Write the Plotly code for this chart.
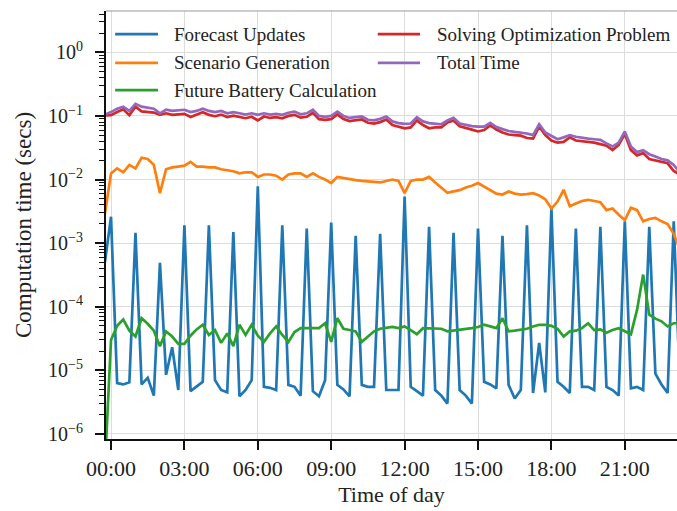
import plotly.graph_objects as go

# Sample times in minutes after midnight (15-minute resolution)
minutes = list(range(-15, 1395 + 1, 15))

forecast_updates = [
    5e-4,
    2.6e-3, 6.3e-6, 6.0e-6, 6.5e-6,    # 00
    1.45e-3, 6.0e-6, 7.6e-6, 4.0e-6,   # 01
    4.9e-4, 8.5e-6, 2.3e-5, 4.9e-6,    # 02
    1.9e-3, 4.7e-6, 5.5e-6, 6.6e-6,    # 03
    1.9e-3, 7.0e-6, 4.9e-6, 4.5e-6,    # 04
    1.5e-3, 3.9e-6, 4.9e-6, 7.0e-6,    # 05
    7.8e-3, 5.5e-6, 5.3e-6, 4.9e-6,    # 06
    1.9e-3, 5.9e-6, 5.5e-6, 4.0e-6,    # 07
    1.7e-3, 4.7e-6, 3.9e-6, 7.0e-6,    # 08
    2.1e-3, 5.9e-6, 5.0e-6, 3.9e-6,    # 09
    1.3e-3, 5.9e-6, 5.5e-6, 5.5e-6,    # 10
    1.4e-3, 4.9e-6, 4.9e-6, 4.9e-6,    # 11
    5.4e-3, 5.5e-6, 4.7e-6, 4.0e-6,    # 12
    1.8e-3, 4.9e-6, 4.0e-6, 3.0e-6,    # 13
    1.45e-3, 4.9e-6, 4.0e-6, 3.0e-6,   # 14
    1.7e-3, 6.6e-6, 6.0e-6, 5.2e-6,    # 15
    1.3e-3, 5.9e-6, 3.6e-6, 4.9e-6,    # 16
    1.9e-3, 4.4e-6, 2.7e-5, 4.5e-6,    # 17
    3.5e-3, 6.6e-6, 5.5e-6, 4.4e-6,    # 18
    1.7e-3, 5.5e-6, 5.5e-6, 4.9e-6,    # 19
    1.8e-3, 5.5e-6, 4.9e-6, 4.0e-6,    # 20
    2.2e-3, 5.2e-6, 5.5e-6, 4.9e-6,    # 21
    1.8e-3, 8.9e-6, 6.0e-6, 4.4e-6,    # 22
    2.2e-3, 6.0e-6,                    # 23
]

scenario_generation = [
    2.9e-3,
    1.25e-2, 1.5e-2, 1.3e-2, 1.7e-2,
    1.5e-2, 2.2e-2, 2.1e-2, 1.7e-2,
    6.1e-3, 1.45e-2, 1.55e-2, 1.6e-2,
    1.65e-2, 1.9e-2, 1.6e-2, 1.6e-2,
    1.55e-2, 1.55e-2, 1.45e-2, 1.4e-2,
    1.35e-2, 1.25e-2, 1.3e-2, 1.3e-2,
    1.1e-2, 1.2e-2, 1.2e-2, 1.15e-2,
    1.0e-2, 1.2e-2, 1.25e-2, 1.25e-2,
    1.1e-2, 1.25e-2, 1.1e-2, 1.0e-2,
    8.8e-3, 1.1e-2, 1.05e-2, 1.0e-2,
    9.8e-3, 9.5e-3, 9.3e-3, 9.0e-3,
    9.0e-3, 9.5e-3, 1.0e-2, 9.5e-3,
    6.1e-3, 9.5e-3, 1.0e-2, 1.0e-2,
    1.1e-2, 9.0e-3, 7.5e-3, 6.2e-3,
    6.5e-3, 6.8e-3, 7.5e-3, 8.0e-3,
    8.8e-3, 7.8e-3, 6.9e-3, 6.0e-3,
    5.8e-3, 6.5e-3, 6.0e-3, 5.8e-3,
    5.9e-3, 6.1e-3, 5.6e-3, 4.9e-3,
    3.5e-3, 4.5e-3, 6.9e-3, 3.8e-3,
    4.2e-3, 4.6e-3, 4.8e-3, 4.6e-3,
    4.4e-3, 3.3e-3, 3.5e-3, 2.8e-3,
    2.3e-3, 3.6e-3, 3.3e-3, 2.2e-3,
    2.4e-3, 2.5e-3, 2.2e-3, 2.0e-3,
    1.4e-3, 8.0e-4,
]

future_battery = [
    3e-7,
    3.0e-5, 5.0e-5, 6.3e-5, 4.2e-5,
    3.4e-5, 6.6e-5, 5.4e-5, 4.2e-5,
    2.4e-5, 4.1e-5, 3.4e-5, 2.6e-5,
    2.6e-5, 3.5e-5, 4.4e-5, 5.2e-5,
    3.6e-5, 4.3e-5, 2.7e-5, 3.8e-5,
    2.4e-5, 5.2e-5, 3.6e-5, 5.2e-5,
    3.5e-5, 2.8e-5, 3.8e-5, 4.9e-5,
    3.6e-5, 2.8e-5, 4.0e-5, 4.6e-5,
    4.6e-5, 4.6e-5, 4.6e-5, 5.5e-5,
    2.8e-5, 6.6e-5, 4.5e-5, 4.3e-5,
    4.1e-5, 2.8e-5, 3.4e-5, 4.1e-5,
    4.5e-5, 4.6e-5, 4.8e-5, 4.6e-5,
    4.9e-5, 4.3e-5, 3.7e-5, 4.6e-5,
    4.6e-5, 4.6e-5, 4.5e-5, 4.1e-5,
    4.2e-5, 4.3e-5, 4.4e-5, 4.6e-5,
    4.8e-5, 5.2e-5, 4.9e-5, 4.6e-5,
    6.6e-5, 4.1e-5, 4.2e-5, 4.3e-5,
    4.5e-5, 4.9e-5, 5.2e-5, 5.2e-5,
    5.0e-5, 4.5e-5, 3.4e-5, 4.1e-5,
    4.2e-5, 4.6e-5, 5.5e-5, 4.3e-5,
    4.4e-5, 3.9e-5, 4.3e-5, 4.6e-5,
    4.1e-5, 3.7e-5, 8.9e-5, 3.2e-4,
    7.5e-5, 6.5e-5, 5.9e-5, 4.9e-5,
    5.5e-5, 5.5e-5,
]

solving_optimization = [
    0.102,
    0.103, 0.115, 0.127, 0.103,
    0.140, 0.118, 0.114, 0.113,
    0.104, 0.110, 0.104, 0.106,
    0.108, 0.096, 0.104, 0.114,
    0.104, 0.099, 0.105, 0.096,
    0.101, 0.097, 0.092, 0.097,
    0.085, 0.098, 0.093, 0.096,
    0.092, 0.100, 0.104, 0.094,
    0.097, 0.112, 0.089, 0.087,
    0.089, 0.106, 0.089, 0.083,
    0.085, 0.088, 0.078, 0.076,
    0.080, 0.088, 0.072, 0.067,
    0.064, 0.066, 0.085, 0.072,
    0.064, 0.066, 0.066, 0.079,
    0.085, 0.069, 0.064, 0.061,
    0.057, 0.060, 0.071, 0.061,
    0.055, 0.051, 0.050, 0.049,
    0.045, 0.044, 0.068, 0.050,
    0.041, 0.038, 0.039, 0.046,
    0.041, 0.040, 0.039, 0.038,
    0.036, 0.034, 0.029, 0.035,
    0.052, 0.029, 0.024, 0.026,
    0.021, 0.020, 0.019, 0.018,
    0.0136, 0.012,
]

total_time = [
    0.105,
    0.115, 0.130, 0.140, 0.120,
    0.155, 0.140, 0.135, 0.130,
    0.110, 0.125, 0.120, 0.122,
    0.125, 0.115, 0.120, 0.130,
    0.120, 0.115, 0.120, 0.110,
    0.115, 0.110, 0.105, 0.110,
    0.104, 0.110, 0.105, 0.108,
    0.104, 0.112, 0.117, 0.106,
    0.110, 0.125, 0.100, 0.097,
    0.100, 0.117, 0.100, 0.093,
    0.096, 0.098, 0.087, 0.085,
    0.090, 0.098, 0.082, 0.077,
    0.075, 0.076, 0.095, 0.082,
    0.077, 0.075, 0.074, 0.085,
    0.093, 0.076, 0.072, 0.069,
    0.068, 0.068, 0.078, 0.067,
    0.062, 0.058, 0.056, 0.055,
    0.053, 0.050, 0.074, 0.055,
    0.048, 0.043, 0.046, 0.050,
    0.047, 0.045, 0.044, 0.043,
    0.042, 0.037, 0.033, 0.038,
    0.057, 0.033, 0.027, 0.029,
    0.025, 0.023, 0.021, 0.020,
    0.017, 0.013,
]

series_names = [
    "Forecast Updates",
    "Scenario Generation",
    "Future Battery Calculation",
    "Solving Optimization Problem",
    "Total Time",
]
series_colors = ["#1f77b4", "#ff7f0e", "#2ca02c", "#d62728", "#9467bd"]

x_tick_minutes = [0, 180, 360, 540, 720, 900, 1080, 1260]
x_tick_labels = ["00:00", "03:00", "06:00", "09:00", "12:00", "15:00", "18:00", "21:00"]

y_tick_values = [1e-6, 1e-5, 1e-4, 1e-3, 1e-2, 1e-1, 1e0]
y_tick_labels = ["10<sup>−6</sup>", "10<sup>−5</sup>", "10<sup>−4</sup>", "10<sup>−3</sup>",
                 "10<sup>−2</sup>", "10<sup>−1</sup>", "10<sup>0</sup>"]
y_minor_values = [m * 10.0 ** e for e in range(-6, 1) for m in range(2, 10)]

FONT = "Liberation Serif, Times New Roman, serif"
TEXT_COLOR = "#222222"

fig = go.Figure()
all_series = [forecast_updates, scenario_generation, future_battery,
              solving_optimization, total_time]
for name, values, color in zip(series_names, all_series, series_colors):
    fig.add_trace(go.Scatter(
        x=minutes, y=values, mode="lines", name=name,
        line=dict(color=color, width=2.7),
        showlegend=False,
    ))

# Two-column legend in the upper-left corner of the axes (paper coordinates)
legend_slots = [  # (sample x0, sample x1, text x, row y)
    (0.016, 0.091, 0.116, 0.946),
    (0.016, 0.091, 0.116, 0.879),
    (0.016, 0.091, 0.116, 0.815),
    (0.476, 0.550, 0.576, 0.946),
    (0.476, 0.550, 0.576, 0.879),
]
shapes = [
    # translucent legend frame
    dict(type="rect", xref="paper", yref="paper", x0=0.006, x1=1.0, y0=0.78, y1=0.985,
         fillcolor="rgba(255,255,255,0.8)", line=dict(width=0), layer="between"),
    # light top spine
    dict(type="line", xref="paper", yref="paper", x0=0, x1=1, y0=1, y1=1,
         line=dict(color="#9a9a9a", width=1.2)),
]
annotations = []
for name, color, (sx0, sx1, tx, ry) in zip(series_names, series_colors, legend_slots):
    shapes.append(dict(type="line", xref="paper", yref="paper", x0=sx0, x1=sx1, y0=ry, y1=ry,
                       line=dict(color=color, width=2.7)))
    annotations.append(dict(text=name, xref="paper", yref="paper", x=tx, y=ry,
                            xanchor="left", yanchor="middle", showarrow=False,
                            font=dict(family=FONT, size=19, color=TEXT_COLOR)))

fig.update_layout(
    width=677, height=511,
    margin=dict(l=106, r=0, t=11, b=72),
    paper_bgcolor="white", plot_bgcolor="white",
    font=dict(family=FONT, size=20, color=TEXT_COLOR),
    showlegend=False,
    shapes=shapes,
    annotations=annotations,
    xaxis=dict(
        range=[-12.3, 1388],
        tickmode="array", tickvals=x_tick_minutes, ticktext=x_tick_labels,
        ticks="outside", ticklen=9, tickwidth=2, tickcolor="#111111",
        showline=True, linecolor="#111111", linewidth=2,
        showgrid=True, gridcolor="#dcdcdc", gridwidth=1,
        zeroline=False,
        tickfont=dict(family=FONT, size=22, color=TEXT_COLOR),
        title=dict(text="Time of day", standoff=6,
                   font=dict(family=FONT, size=22, color=TEXT_COLOR)),
    ),
    yaxis=dict(
        type="log",
        range=[-6.08, 0.65],
        tickmode="array", tickvals=y_tick_values, ticktext=y_tick_labels,
        ticks="outside", ticklen=9, tickwidth=2, tickcolor="#111111",
        ticklabelstandoff=8,
        minor=dict(tickmode="array", tickvals=y_minor_values, ticks="outside",
                   ticklen=5, tickwidth=1.3, tickcolor="#111111", showgrid=False),
        showline=True, linecolor="#111111", linewidth=2,
        showgrid=True, gridcolor="#dcdcdc", gridwidth=1,
        zeroline=False,
        tickfont=dict(family=FONT, size=20, color=TEXT_COLOR),
        title=dict(text="Computation time (secs)", standoff=10,
                   font=dict(family=FONT, size=23, color=TEXT_COLOR)),
    ),
)

fig.write_html("out.html")
